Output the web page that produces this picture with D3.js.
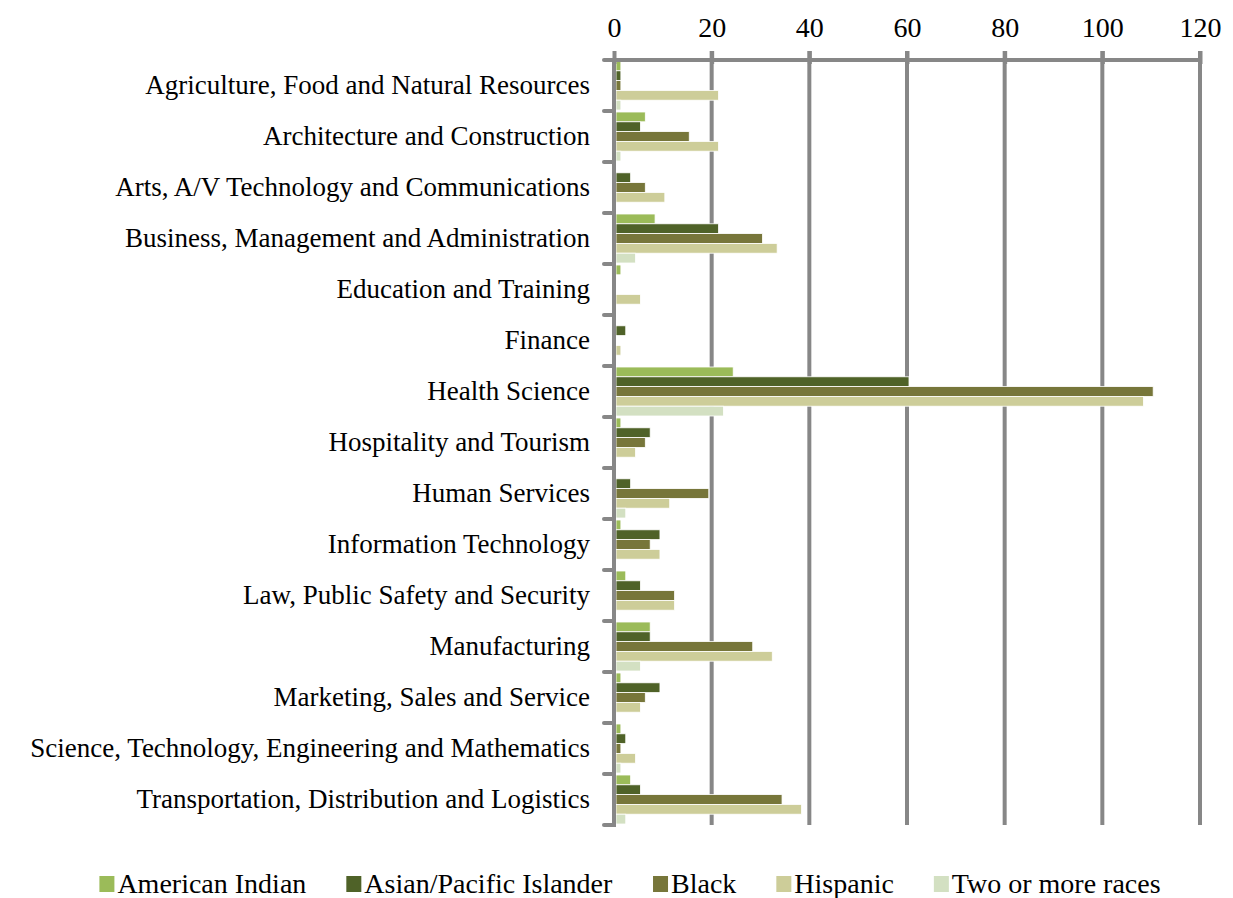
<!DOCTYPE html>
<html>
<head>
<meta charset="utf-8">
<script src="https://cdn.jsdelivr.net/npm/d3@7"></script>
<style>
  body { margin: 0; background: #fff; }
  text { font-family: "Liberation Serif", "Times New Roman", serif; fill: #000; }
</style>
</head>
<body>
<script>
var categories = [
    "Agriculture,  Food and Natural Resources",
    "Architecture and Construction",
    "Arts, A/V Technology and Communications",
    "Business, Management and Administration",
    "Education and Training",
    "Finance",
    "Health Science",
    "Hospitality and Tourism",
    "Human Services",
    "Information Technology",
    "Law, Public  Safety and Security",
    "Manufacturing",
    "Marketing, Sales and Service",
    "Science, Technology, Engineering  and Mathematics",
    "Transportation, Distribution and Logistics"
];
var seriesNames = ["American Indian", "Asian/Pacific Islander", "Black", "Hispanic", "Two or more races"];
var americanIndian = [1, 6, 0, 8, 1, 0, 24, 1, 0, 1, 2, 7, 1, 1, 3];
var asianPacific   = [1, 5, 3, 21, 0, 2, 60, 7, 3, 9, 5, 7, 9, 2, 5];
var black          = [1, 15, 6, 30, 0, 0, 110, 6, 19, 7, 12, 28, 6, 1, 34];
var hispanic       = [21, 21, 10, 33, 5, 1, 108, 4, 11, 9, 12, 32, 5, 4, 38];
var twoOrMore      = [1, 1, 0, 4, 0, 0, 22, 0, 2, 0, 0, 5, 0, 1, 2];
var xTicks = [0, 20, 40, 60, 80, 100, 120];
var seriesColors = ["#9bbb59", "#4f6228", "#77763a", "#cdcd99", "#d3e0c2"];

function draw_bars(objid, width, height) {
    var svg = d3.select('body').append('svg')
        .attr('width', width)
        .attr('height', height)
        .attr('id', objid);

    var values = [americanIndian, asianPacific, black, hispanic, twoOrMore];
    var rows = categories.map(function (c, i) {
        return { name: c, vals: values.map(function (s, j) { return { key: seriesNames[j], v: s[i] }; }) };
    });

    var x = d3.scaleLinear().domain([0, 120]).range([614, 1200]);
    var y = d3.scaleBand().domain(categories).range([60, 825]);
    var ySub = d3.scaleBand().domain(seriesNames).range([1, y.bandwidth() - 1]);
    var color = d3.scaleOrdinal().domain(seriesNames).range(seriesColors);
    var grey = "#878787";

    // vertical gridlines
    svg.append('g').selectAll('line')
        .data(xTicks.slice(1))
        .enter().append('line')
        .attr('x1', function (d) { return x(d); })
        .attr('x2', function (d) { return x(d); })
        .attr('y1', 51)
        .attr('y2', 825)
        .attr('stroke', grey)
        .attr('stroke-width', 4);

    var g = svg.append('g').selectAll('g')
        .data(rows)
        .enter().append('g')
        .attr('transform', function (d) { return 'translate(0,' + y(d.name) + ')'; });

    g.selectAll('rect')
        .data(function (d) { return d.vals.filter(function (e) { return e.v > 0; }); })
        .enter().append('rect')
        .attr('x', x(0) + 2)
        .attr('y', function (d) { return ySub(d.key); })
        .attr('width', function (d) { return x(d.v) - x(0); })
        .attr('height', ySub.bandwidth())
        .attr('fill', function (d) { return color(d.key); })
        .attr('stroke', '#fff')
        .attr('stroke-width', 0.8);

    // top axis
    var xAxis = d3.axisTop(x).tickValues(xTicks).tickSize(9).tickPadding(14);
    var ax = svg.append('g')
        .attr('transform', 'translate(0,60)')
        .call(xAxis);
    ax.select('.domain').remove();
    ax.selectAll('.tick line').attr('stroke', grey).attr('stroke-width', 4).attr('y1', 4);
    ax.selectAll('.tick text').style('font-size', '28px').attr('font-family', null);
    svg.append('line')
        .attr('x1', 604).attr('x2', x(120) + 2)
        .attr('y1', 60).attr('y2', 60)
        .attr('stroke', grey).attr('stroke-width', 4);

    // left axis with category ticks
    var yAxis = d3.axisLeft(y).tickSize(0).tickPadding(24);
    var ay = svg.append('g')
        .attr('transform', 'translate(' + x(0) + ',0)')
        .call(yAxis);
    ay.select('.domain').remove();
    ay.selectAll('.tick text').style('font-size', '27px').attr('font-family', null).attr('dy', '0.32em');
    svg.append('line')
        .attr('x1', x(0)).attr('x2', x(0))
        .attr('y1', 58).attr('y2', 827)
        .attr('stroke', grey).attr('stroke-width', 4);
    svg.append('g').selectAll('line')
        .data(categories.map(function (c) { return y(c); }).concat([825]))
        .enter().append('line')
        .attr('x1', 604).attr('x2', x(0))
        .attr('y1', function (d) { return d; })
        .attr('y2', function (d) { return d; })
        .attr('stroke', grey)
        .attr('stroke-width', 4)
        .attr('stroke-linecap', 'round');

    // legend
    var legend = svg.append('g').attr('transform', 'translate(0,884)');
    var items = legend.selectAll('g')
        .data(seriesNames)
        .enter().append('g');
    items.append('rect')
        .attr('x', 0).attr('y', -8)
        .attr('width', 15).attr('height', 16)
        .attr('fill', function (d) { return color(d); });
    items.append('text')
        .attr('x', 18).attr('dy', '0.33em')
        .style('font-size', '28px')
        .text(function (d) { return d; });
    var pos = 0, offs = [];
    items.each(function () {
        offs.push(pos);
        pos += this.getBBox().width + 40;
    });
    pos -= 40;
    var start = 630 - pos / 2;
    items.attr('transform', function (d, i) { return 'translate(' + (start + offs[i]) + ',0)'; });

    return svg;
}

draw_bars('chart', 1233, 898);
</script>
</body>
</html>
